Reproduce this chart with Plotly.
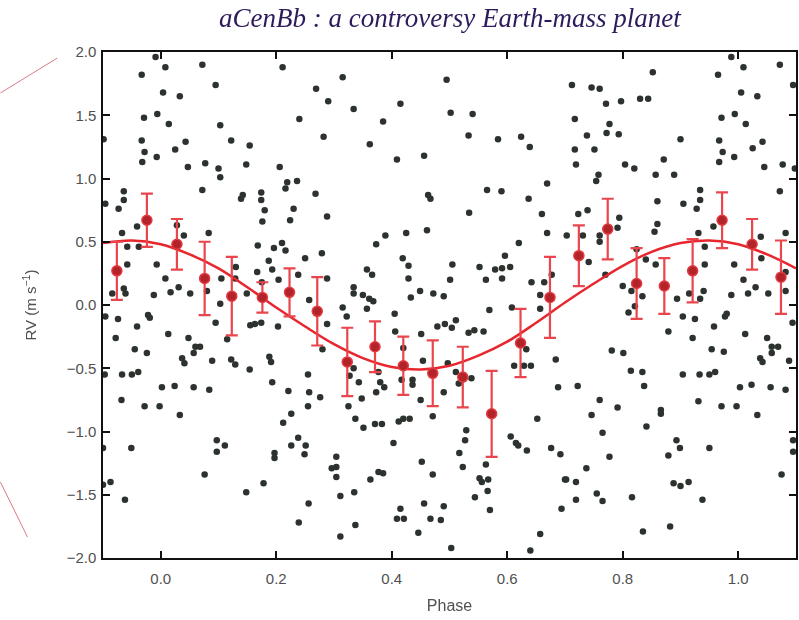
import plotly.graph_objects as go

# ---- raw RV measurements (phase, RV in m/s) ----
dot_phase = [
 -0.009,0.008,0.072,-0.033,0.095,0.004,0.033,0.211,0.269,0.290,-0.029,-0.006,0.014,0.103,0.240,-0.099,-0.033,0.043,0.122,0.154,
 0.282,-0.028,0.025,-0.007,-0.032,0.047,0.077,0.100,0.148,0.206,0.103,0.219,0.236,0.216,0.072,-0.064,-0.064,-0.096,-0.073,0.142,
 0.139,0.174,0.174,0.180,0.230,0.268,0.224,0.176,0.288,-0.041,-0.067,0.028,0.040,0.083,-0.058,-0.038,0.168,0.196,0.210,0.216,
 0.279,0.250,-0.058,-0.007,0.008,0.031,0.017,-0.084,-0.061,-0.064,-0.012,0.051,0.080,0.105,0.130,0.129,0.187,0.193,0.167,0.175,
 0.204,0.238,0.288,0.257,0.149,
 0.315,0.495,0.334,0.415,0.385,0.502,0.540,0.533,0.584,0.624,0.639,0.362,0.409,0.456,0.463,0.467,0.565,0.590,0.637,0.669,
 0.534,0.660,0.669,0.703,0.389,0.373,0.425,0.461,0.620,0.596,0.419,0.429,0.357,0.366,0.429,0.505,0.501,0.552,0.579,0.591,
 0.605,0.563,0.591,0.642,0.664,0.677,0.334,0.334,0.350,0.361,0.368,0.433,0.449,0.472,0.490,0.657,
 0.988,1.009,1.072,0.852,0.965,0.712,0.746,0.760,1.095,0.771,0.797,0.830,0.844,1.005,1.033,0.717,0.777,0.772,0.793,0.738,
 0.971,0.994,1.013,0.717,0.751,0.900,0.967,0.973,0.993,0.967,1.025,1.042,0.719,0.804,0.820,0.871,0.857,0.889,1.045,1.077,
 1.098,0.758,0.754,0.934,1.072,0.934,0.860,0.905,0.928,0.723,0.739,0.794,0.860,0.957,0.855,0.931,0.731,0.760,0.760,0.791,
 1.082,1.039,0.824,0.840,0.857,0.741,0.770,0.942,0.942,0.993,1.009,1.040,1.082,0.800,0.815,0.894,0.915,0.940,0.934,0.988,
 1.017,1.030,1.052,1.082,0.834,
 0.103,-0.096,-0.074,-0.022,-0.019,-0.041,-0.078,0.013,0.048,-0.045,-0.024,0.060,0.068,0.057,0.037,0.041,0.089,0.122,0.129,0.154,
 0.188,0.191,0.095,0.115,0.155,0.163,0.174,0.203,0.280,0.288,-0.097,-0.067,-0.050,-0.039,0.193,0.255,0.002,0.024,0.057,0.084,
 0.221,0.257,0.276,0.255,-0.068,-0.028,-0.002,0.033,0.226,0.212,-0.100,-0.051,0.097,0.111,0.097,0.197,0.197,0.226,0.238,0.251,
 0.249,0.296,0.076,-0.087,-0.100,-0.062,0.178,0.148,0.256,0.239,
 0.315,0.357,0.322,0.405,0.569,0.608,0.657,0.406,0.451,0.479,0.492,0.504,0.511,0.533,0.543,0.559,0.420,0.454,0.334,0.327,
 0.343,0.377,0.380,0.387,0.373,0.348,0.325,0.417,0.436,0.436,0.450,0.497,0.490,0.471,0.511,0.516,0.538,0.612,0.629,0.641,
 0.633,0.684,0.688,0.652,0.337,0.351,0.371,0.383,0.412,0.420,0.431,0.403,0.529,0.527,0.517,0.523,0.563,0.606,0.615,0.619,
 0.634,0.676,0.692,0.700,0.304,0.304,0.304,0.452,0.471,0.377,0.385,0.363,0.552,0.556,0.567,0.566,0.544,0.570,0.311,0.335,
 0.456,0.490,0.415,0.409,0.421,0.467,0.485,0.337,0.311,0.446,0.503,0.657,0.640,0.694,
 0.810,0.821,0.904,0.925,0.958,0.977,0.980,1.094,0.879,1.012,0.921,1.050,1.058,1.069,1.058,0.954,0.975,0.781,0.801,1.038,
 1.042,1.088,0.814,0.834,0.904,0.933,0.950,0.960,0.837,0.722,1.003,1.023,1.056,1.082,0.760,0.791,0.746,0.866,0.866,0.931,
 0.971,0.997,1.033,0.841,0.765,0.893,0.899,0.950,1.095,1.095,0.879,0.777,0.737,1.075,0.702,0.719,0.888,0.900,0.914,0.755,
 0.765,0.719,0.816,0.938,0.835,0.882,
]
dot_rv = [
 1.96,1.88,1.90,1.82,1.74,1.68,1.65,1.88,1.71,1.61,1.48,1.51,1.43,1.42,1.47,1.31,1.30,1.29,1.30,1.26,
 1.33,1.21,1.23,1.17,1.13,1.09,1.12,1.08,1.11,1.09,1.01,0.97,0.98,0.92,0.91,0.90,0.83,0.80,0.76,0.87,
 0.84,0.89,0.83,0.75,0.76,0.88,0.67,0.66,0.70,0.62,0.57,0.63,0.55,0.57,0.46,0.46,0.47,0.45,0.49,0.43,
 0.41,0.37,0.32,0.32,0.21,0.14,0.10,0.09,0.09,0.13,0.08,0.09,0.11,0.21,0.30,0.21,0.35,0.28,0.26,0.18,
 0.20,0.24,0.21,0.04,0.09,
 1.80,1.78,1.55,1.59,1.45,1.52,1.51,1.34,1.31,1.33,1.25,1.27,1.15,1.18,0.87,0.84,0.91,0.90,0.84,0.96,
 0.73,0.72,0.57,0.55,0.55,0.48,0.57,0.59,0.49,0.39,0.37,0.31,0.28,0.24,0.21,0.32,0.20,0.30,0.28,0.29,
 0.30,0.20,0.21,0.18,0.18,0.24,0.14,0.09,0.08,0.05,0.03,0.06,0.11,0.09,0.07,0.08,
 1.96,1.88,1.90,1.84,1.82,1.74,1.72,1.71,1.74,1.59,1.61,1.63,1.63,1.68,1.65,1.47,1.43,1.36,1.35,1.34,
 1.48,1.51,1.43,1.23,1.23,1.31,1.30,1.21,1.17,1.13,1.24,1.29,1.11,1.11,1.08,1.15,1.03,1.03,1.09,1.11,
 1.08,1.03,0.98,0.91,0.90,0.83,0.82,0.80,0.76,0.72,0.75,0.69,0.64,0.62,0.58,0.57,0.55,0.55,0.50,0.61,
 0.57,0.54,0.44,0.36,0.32,0.34,0.24,0.32,0.46,0.32,0.20,0.37,0.26,0.15,0.11,0.05,0.09,0.11,0.05,0.08,
 0.09,0.14,0.09,0.11,0.07,
 0.01,-0.09,-0.11,-0.08,-0.10,-0.17,-0.26,-0.23,-0.26,-0.35,-0.38,-0.33,-0.33,-0.38,-0.42,-0.46,-0.44,-0.43,-0.47,-0.51,
 -0.41,-0.45,-0.14,-0.27,-0.16,-0.15,-0.14,-0.17,-0.35,-0.15,-0.55,-0.55,-0.55,-0.53,-0.61,-0.55,-0.65,-0.64,-0.65,-0.67,
 -0.68,-0.69,-0.73,-0.80,-0.75,-0.80,-0.80,-0.87,-0.86,-0.93,-1.13,-1.13,-1.07,-1.11,-1.16,-1.17,-1.21,-1.11,-1.05,-1.11,
 -1.18,-1.29,-1.34,-1.40,-1.42,-1.54,-1.41,-1.48,-1.57,-1.72,
 -0.02,-0.03,-0.09,-0.07,-0.04,-0.02,-0.03,-0.21,-0.23,-0.17,-0.15,-0.18,-0.12,-0.22,-0.20,-0.21,-0.34,-0.44,-0.50,-0.56,
 -0.61,-0.53,-0.61,-0.65,-0.69,-0.74,-0.80,-0.59,-0.59,-0.63,-0.75,-0.46,-0.69,-0.88,-0.53,-0.62,-0.58,-0.48,-0.48,-0.48,
 -0.35,-0.43,-0.65,-0.90,-0.90,-0.97,-0.94,-0.94,-0.92,-0.90,-0.90,-1.09,-0.99,-1.07,-1.17,-1.28,-1.26,-1.04,-1.09,-1.11,
 -1.15,-1.13,-1.18,-1.38,-1.20,-1.28,-1.36,-1.24,-1.34,-1.32,-1.33,-1.38,-1.37,-1.40,-1.38,-1.47,-1.52,-1.62,-1.51,-1.48,
 -1.57,-1.59,-1.61,-1.69,-1.69,-1.69,-1.70,-1.74,-1.83,-1.80,-1.92,-1.81,-1.94,-1.61,
 -0.06,-0.01,-0.09,-0.11,-0.17,-0.09,-0.07,-0.14,-0.21,-0.23,-0.26,-0.26,-0.33,-0.33,-0.38,-0.35,-0.37,-0.36,-0.38,-0.42,
 -0.45,-0.44,-0.52,-0.53,-0.55,-0.55,-0.55,-0.53,-0.64,-0.64,-0.65,-0.63,-0.65,-0.67,-0.75,-0.81,-0.87,-0.83,-0.86,-0.76,
 -0.80,-0.80,-0.87,-0.96,-1.01,-1.07,-1.13,-1.13,-1.07,-1.16,-1.19,-1.20,-1.29,-1.34,-1.38,-1.40,-1.41,-1.43,-1.40,-1.49,
 -1.55,-1.54,-1.52,-1.54,-1.79,-1.75,
]

# ---- binned averages ----
bin_phase = [-0.076,-0.024,0.028,0.076,0.123,0.176,0.223,0.271,0.323,0.371,0.420,0.471,
             0.523,0.573,0.623,0.674,0.724,0.774,0.824,0.872,0.921,0.972,1.024,1.074]
bin_rv = [0.27,0.67,0.48,0.21,0.07,0.06,0.10,-0.05,-0.45,-0.33,-0.48,-0.54,
          -0.57,-0.86,-0.30,0.06,0.39,0.60,0.17,0.15,0.27,0.67,0.48,0.22]
bin_err = [0.23,0.21,0.20,0.29,0.31,0.12,0.19,0.27,0.27,0.20,0.23,0.26,
           0.24,0.34,0.27,0.32,0.24,0.24,0.28,0.22,0.25,0.22,0.20,0.29]

# ---- fitted orbit curve ----
fit_phase = [-0.10,-0.05,0.00,0.05,0.10,0.15,0.20,0.25,0.30,0.35,0.40,0.45,0.50,
             0.55,0.60,0.65,0.70,0.75,0.80,0.85,0.90,0.95,1.00,1.05,1.10]
fit_rv = [0.49,0.51,0.48,0.40,0.29,0.14,-0.02,-0.17,-0.31,-0.42,-0.49,-0.51,-0.48,
          -0.40,-0.29,-0.14,0.02,0.17,0.31,0.42,0.49,0.51,0.48,0.40,0.29]

x_ticks = [0.0,0.2,0.4,0.6,0.8,1.0]
y_ticks = [-2.0,-1.5,-1.0,-0.5,0.0,0.5,1.0,1.5,2.0]

fig = go.Figure()
fig.add_trace(go.Scatter(x=dot_phase, y=dot_rv, mode="markers",
                         marker=dict(size=6.5, color="#1a201b", line=dict(width=0)),
                         opacity=0.92, hoverinfo="skip"))
fig.add_trace(go.Scatter(x=fit_phase, y=fit_rv, mode="lines", line_shape="spline",
                         line=dict(color="#e8262e", width=2.5)))
fig.add_trace(go.Scatter(x=bin_phase, y=bin_rv, mode="markers",
                         error_y=dict(type="data", array=bin_err, color="#e8464c",
                                      thickness=2.2, width=6),
                         marker=dict(size=10, color="#b3232a",
                                     line=dict(color="#e23a40", width=1.5))))

tickfont = dict(family="Liberation Sans, Arial", size=15, color="#505050")
fig.update_layout(
    width=799, height=620,
    margin=dict(l=103, r=1, t=52, b=62),
    paper_bgcolor="white", plot_bgcolor="white",
    showlegend=False,
    title=dict(text="<i>aCenBb : a controversy Earth-mass planet</i>",
               font=dict(family="Liberation Serif, serif", size=27, color="#2d1b5c"),
               x=0.563, xanchor="center", y=0.972, yanchor="middle"),
    xaxis=dict(range=[-0.1, 1.1], tickvals=x_ticks, tickformat=".1f",
               showgrid=False, zeroline=False, showline=True, linecolor="#111",
               linewidth=1.5, mirror="allticks", ticks="inside", ticklen=7,
               tickcolor="#111", tickwidth=1.5, tickfont=tickfont,
               ticklabelstandoff=6,
               title=dict(text="Phase", font=dict(family="Liberation Sans, Arial", size=16, color="#505050"),
                          standoff=14)),
    yaxis=dict(range=[-2.0, 2.0], tickvals=y_ticks, tickformat=".1f",
               showgrid=False, zeroline=False, showline=True, linecolor="#111",
               linewidth=1.5, mirror="allticks", ticks="inside", ticklen=7,
               tickcolor="#111", tickwidth=1.5, tickfont=tickfont,
               ticklabelstandoff=2,
               title=dict(text="RV (m s<sup>−1</sup>)", font=dict(family="Liberation Sans, Arial", size=15, color="#505050"),
                          standoff=26)),
    shapes=[
        dict(type="line", xref="paper", yref="paper", x0=-0.148, y0=0.919, x1=-0.066, y1=0.988,
             line=dict(color="#d77a86", width=1)),
        dict(type="line", xref="paper", yref="paper", x0=-0.148, y0=0.150, x1=-0.109, y1=0.0415,
             line=dict(color="#d77a86", width=1)),
    ],
)
fig.write_html("out.html")
